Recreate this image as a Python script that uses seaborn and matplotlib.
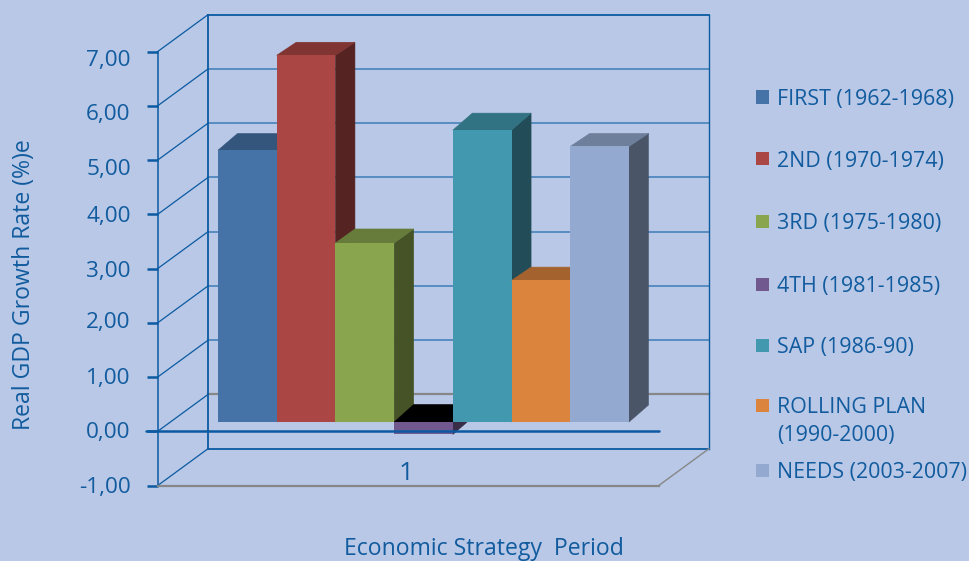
import matplotlib
matplotlib.use("Agg")
import matplotlib.pyplot as plt
import matplotlib.transforms as mtransforms
from matplotlib.colors import to_rgb
from matplotlib.lines import Line2D
from matplotlib.patches import Polygon, Rectangle
import pandas as pd
import seaborn as sns

# Values
periods = ["FIRST (1962-1968)", "2ND (1970-1974)", "3RD (1975-1980)", "4TH (1981-1985)",
           "SAP (1986-90)", "ROLLING PLAN\n(1990-2000)", "NEEDS (2003-2007)"]
growth = [5.01, 6.76, 3.30, -0.23, 5.38, 2.61, 5.08]
y_levels = [-1, 0, 1, 2, 3, 4, 5, 6, 7]
category_label = "1"
y_title = "Real GDP Growth Rate (%)e"
x_title = "Economic Strategy  Period"

# Styles
face_colors = ["#4572A7", "#AA4643", "#89A54E", "#71588F", "#4198AF", "#DB843D", "#93A9CF"]
BG = "#B8C8E6"
INK = "#115B9E"
AXIS_BLUE = "#0B5AA2"
GRID_BLUE = "#5087BE"
GREY = "#878787"
FONT = "Open Sans"
W, H, DPI = 970, 561, 100

# Layout, in pixels from the top left of the figure
FRONT_LEFT, FRONT_RIGHT, FRONT_TOP, FRONT_BOTTOM = 157.5, 658.5, 51.7, 485.7
WALL_DX, WALL_DY = 50.5, 37.0
BAR_LEFT, BAR_RIGHT, BAR_BASE = 218.0, 629.0, 422.0
BAR_DX, BAR_DY_BASE = 19.5, 17.0
bar_rise = [16.7, 13.0, 14.0, 17.5, 17.0, 13.3, 13.0]
tick_nudge = [1.6, 1.0, 1.5, 0.0, 2.3, 2.2, 9.5, 9.0, 9.0]
legend_rows = [101, 163, 225, 288, 349, 409, 474]

sns.set_theme(style="white")
plt.rcParams["font.family"] = [FONT, "DejaVu Sans"]

fig = plt.figure(figsize=(W / DPI, H / DPI), dpi=DPI, facecolor=BG)


def fig_box(left, right, top, bottom):
    return [left / W, 1 - bottom / H, (right - left) / W, (bottom - top) / H]


# Front plane: carries the value axis, the floor edge and the category label
ax = fig.add_axes(fig_box(FRONT_LEFT, FRONT_RIGHT, FRONT_TOP, FRONT_BOTTOM), zorder=1)
ax.patch.set_visible(False)
ax.set_xlim(0, 2)
ax.set_ylim(y_levels[0], y_levels[-1])
sns.despine(ax=ax, top=True, right=True)
ax.spines["left"].set(color=AXIS_BLUE, linewidth=1.1)
ax.spines["bottom"].set(color=GREY, linewidth=1.6)

ax.set_yticks(y_levels)
ax.set_yticklabels([f"{v:.2f}".replace(".", ",") for v in y_levels])
ax.tick_params(axis="y", left=True, length=8, width=1.8, color=AXIS_BLUE, pad=11.3,
               labelsize=16.2, labelcolor=INK)
for tick_label, nudge in zip(ax.get_yticklabels(), tick_nudge):
    tick_label.set_verticalalignment("center")
    tick_label.set_transform(tick_label.get_transform()
                             + mtransforms.ScaledTranslation(0, -nudge / DPI, fig.dpi_scale_trans))

ax.set_xticks([0.993])
ax.set_xticklabels([category_label])
ax.tick_params(axis="x", bottom=False, pad=-23.8, labelsize=19, labelcolor=INK)

ax.set_ylabel(y_title, fontsize=16.6, color=INK, va="center")
ax.yaxis.set_label_coords(24 / W, 1 - 285 / H, transform=fig.transFigure)
ax.set_xlabel(x_title, fontsize=16.6, color=INK)
ax.xaxis.set_label_coords(484 / W, 1 - 549 / H, transform=fig.transFigure)
ax.xaxis.label.set_verticalalignment("center")

# Back wall, floor and side diagonals, in front-plane data units shifted by the depth
x_unit = 2 / (FRONT_RIGHT - FRONT_LEFT)
y_unit = (y_levels[-1] - y_levels[0]) / (FRONT_BOTTOM - FRONT_TOP)
wall_dx, wall_dy = WALL_DX * x_unit, WALL_DY * y_unit
line_kw = dict(clip_on=False, solid_capstyle="projecting")

for level in y_levels:
    is_top_or_floor = level in (y_levels[0], y_levels[-1])
    wall_color = GREY if level == 0 else (AXIS_BLUE if is_top_or_floor else GRID_BLUE)
    ax.plot([wall_dx, 2 + wall_dx], [level + wall_dy] * 2, color=wall_color,
            lw=1.3 if level != 0 else 1.6, zorder=1, **line_kw)
    ax.plot([0, wall_dx], [level, level + wall_dy], color=AXIS_BLUE, lw=0.9, zorder=1, **line_kw)

ymin, ymax = y_levels[0] + wall_dy, y_levels[-1] + wall_dy
ax.plot([wall_dx, wall_dx], [ymin, ymax], color=AXIS_BLUE, lw=1.3, zorder=1, **line_kw)
ax.plot([2 + wall_dx, 2 + wall_dx], [ymin, ymax], color=AXIS_BLUE, lw=1.0, zorder=1, **line_kw)
ax.plot([2, 2 + wall_dx], [y_levels[0], ymin], color=GREY, lw=1.0, zorder=1, **line_kw)

# Bar plane, set a little behind the front plane
bar_top = BAR_BASE - y_levels[-1] / y_unit
bar_bottom = BAR_BASE - y_levels[0] / y_unit
ax_bars = fig.add_axes(fig_box(BAR_LEFT, BAR_RIGHT, bar_top, bar_bottom), zorder=2)
data = pd.DataFrame({"period": periods, "growth": growth})
sns.barplot(data=data, x="period", y="growth", hue="period", palette=face_colors,
            width=1, legend=False, saturation=1, ax=ax_bars)
ax_bars.set_xlim(-0.5, len(periods) - 0.5)
ax_bars.set_ylim(y_levels[0], y_levels[-1])
ax_bars.axis("off")

bar_x_unit = len(periods) / (BAR_RIGHT - BAR_LEFT)


def shade(color, factor):
    return tuple(c * factor for c in to_rgb(color))


# Give each bar a top and a side, painted left to right so nearer faces overlap
for i, bar in enumerate(ax_bars.patches):
    x0, x1 = bar.get_x(), bar.get_x() + bar.get_width()
    value = bar.get_height()
    upper, lower = max(value, 0), min(value, 0)
    dx = BAR_DX * bar_x_unit
    dy = bar_rise[i] * y_unit
    base_dy = BAR_DY_BASE * y_unit
    front = face_colors[i]
    top_color = shade(front, 0.75) if value > 0 else "black"
    side_color = shade(front, 0.5)
    order = 2 + i * 3
    bar.set_zorder(order + 2)
    bar.set_linewidth(0)
    ax_bars.add_patch(Polygon([(x0, upper), (x0 + dx, upper + dy), (x1 + dx, upper + dy), (x1, upper)],
                              closed=True, fc=top_color, ec=top_color, lw=0.4,
                              zorder=order + 1, clip_on=False))
    ax_bars.add_patch(Polygon([(x1, upper), (x1 + dx, upper + dy), (x1 + dx, lower + base_dy), (x1, lower)],
                              closed=True, fc=side_color, ec=side_color, lw=0.4,
                              zorder=order, clip_on=False))

# The zero line runs in front of the bars
ax_bars.add_line(Line2D([-0.022, 1], [0, 0], transform=ax.get_yaxis_transform(), color=AXIS_BLUE,
                        lw=1.8, zorder=60, clip_on=False))

# Legend keys and labels
for color, label, row in zip(face_colors, periods, legend_rows):
    fig.add_artist(Rectangle((756 / W, 1 - (row - 4 + 6.5) / H), 13 / W, 13 / H,
                             transform=fig.transFigure, fc=color, ec="none"))
    fig.text(777 / W, 1 - (row - 12) / H, label, color=INK, fontsize=15.4,
             ha="left", va="top", linespacing=1.45)

fig.savefig("out.png", dpi=DPI, facecolor=BG)
